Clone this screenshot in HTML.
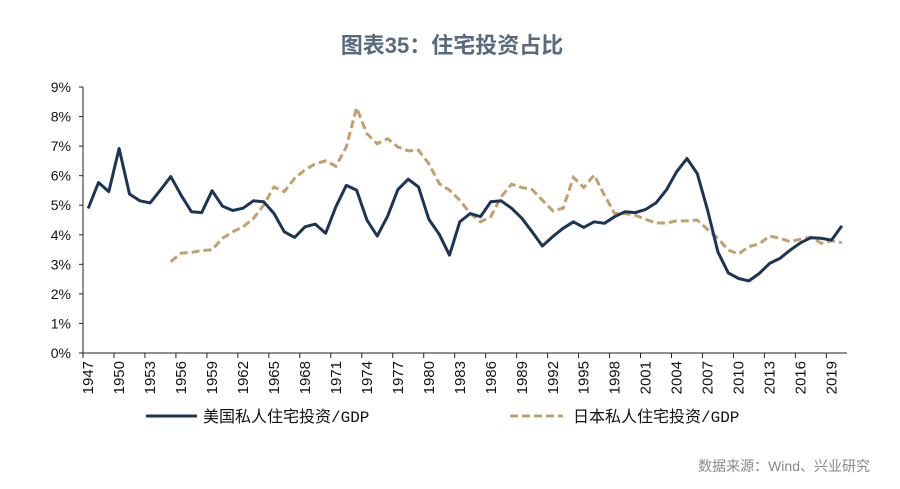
<!DOCTYPE html>
<html><head><meta charset="utf-8"><style>
body{margin:0;background:#fff;width:900px;height:484px;overflow:hidden;font-family:"Liberation Sans","Noto Sans CJK SC",sans-serif}
</style></head><body>
<svg width="900" height="484">
<text x="452" y="53" text-anchor="middle" font-size="22" font-weight="600" fill="#596a7e" font-family="Liberation Sans, Noto Sans CJK SC, sans-serif">图表35：住宅投资占比</text>
<g id="axes"></g>
<g id="series"></g>
<g>
<line x1="146" y1="416" x2="197" y2="416" stroke="#1b3556" stroke-width="3"/>
<text x="203" y="422" font-size="16" fill="#111" font-family="Liberation Mono, Noto Sans CJK SC, sans-serif">美国私人住宅投资/GDP</text>
<line x1="510" y1="416" x2="563" y2="416" stroke="#c2a06e" stroke-width="3" stroke-dasharray="8,4"/>
<text x="573" y="422" font-size="16" fill="#111" font-family="Liberation Mono, Noto Sans CJK SC, sans-serif">日本私人住宅投资/GDP</text>
</g>
<text x="870" y="471" text-anchor="end" font-size="14" fill="#888">数据来源：Wind、兴业研究</text>
</svg>
<script>
const years=[];for(let y=1947;y<=2020;y++)years.push(y);
const usValues=[4.89,5.77,5.46,6.92,5.38,5.15,5.08,5.51,5.97,5.34,4.78,4.75,5.49,4.97,4.82,4.9,5.15,5.12,4.72,4.1,3.91,4.27,4.36,4.05,4.95,5.67,5.51,4.5,3.96,4.63,5.53,5.88,5.62,4.52,4.02,3.31,4.44,4.72,4.61,5.12,5.15,4.9,4.56,4.1,3.62,3.94,4.22,4.44,4.25,4.44,4.39,4.61,4.78,4.75,4.86,5.08,5.51,6.13,6.58,6.07,4.83,3.42,2.71,2.52,2.44,2.69,3.03,3.2,3.48,3.73,3.9,3.88,3.82,4.3];
const jpValues=[null,null,null,null,null,null,null,null,3.09,3.38,3.4,3.47,3.49,3.88,4.1,4.27,4.55,5.0,5.62,5.46,5.91,6.2,6.4,6.5,6.32,6.97,8.3,7.42,7.08,7.25,6.97,6.84,6.86,6.4,5.73,5.51,5.17,4.72,4.44,4.61,5.28,5.71,5.6,5.53,5.17,4.81,4.9,5.94,5.6,6.02,5.34,4.72,4.72,4.66,4.52,4.4,4.4,4.47,4.47,4.5,4.18,3.88,3.48,3.35,3.6,3.69,3.96,3.88,3.77,3.85,3.92,3.71,3.8,3.73];
const yTicks=[0,1,2,3,4,5,6,7,8,9];
const L=83,R=847,T=87,B=353,NS='http://www.w3.org/2000/svg';
const bw=(R-L)/years.length;
const xs=i=>L+bw*(i+0.5);
const ys=v=>B-(v/9)*(B-T);
function mk(tag,at,parent){const e=document.createElementNS(NS,tag);for(const k in at)e.setAttribute(k,at[k]);parent.appendChild(e);return e;}
const ax=document.getElementById('axes');
let e=mk('line',{x1:L,y1:T,x2:L,y2:B,stroke:'#222','stroke-width':1},ax);


e=mk('line',{x1:L,y1:B,x2:R,y2:B,stroke:'#222','stroke-width':1},ax);


yTicks.forEach(v=>{
 const t=mk('line',{x1:L-4,y1:ys(v),x2:L,y2:ys(v),stroke:'#222'},ax);
 
 
 const tx=mk('text',{x:L-12,y:ys(v)+5,'text-anchor':'end','font-size':14,fill:'#111'},ax);
 tx.textContent=v+'%';
 
 
});
years.forEach((y,i)=>{
 if(i%3!==0)return;
 const x0=L+bw*i;
 const t=mk('line',{x1:x0,y1:B,x2:x0,y2:B+5,stroke:'#222'},ax);
 
 
 const tx=mk('text',{x:0,y:0,'text-anchor':'end','font-size':15,fill:'#111',transform:`translate(${xs(i)+5},${B+8}) rotate(-90)`},ax);
 tx.textContent=y;
 
 
});
function path(vals){let d='',pen=false;vals.forEach((v,i)=>{if(v==null){pen=false;return;}d+=(pen?'L':'M')+xs(i).toFixed(1)+' '+ys(v).toFixed(1);pen=true;});return d;}
const sg=document.getElementById('series');
const jp=mk('path',{d:path(jpValues),fill:'none',stroke:'#c2a06e','stroke-width':3,'stroke-dasharray':'8,4'},sg);


const us=mk('path',{d:path(usValues),fill:'none',stroke:'#1b3556','stroke-width':3,'stroke-linejoin':'round'},sg);


</script>
</body></html>
